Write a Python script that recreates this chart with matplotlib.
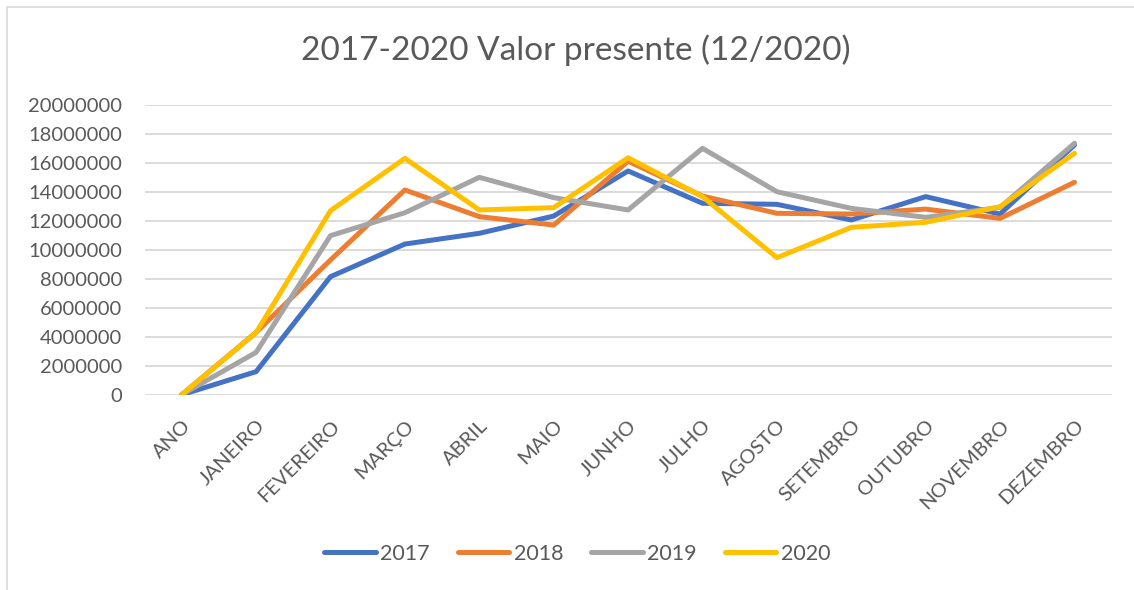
import matplotlib.pyplot as plt
from matplotlib.patches import Rectangle

# dados
meses = ["ANO", "JANEIRO", "FEVEREIRO", "MARÇO", "ABRIL", "MAIO", "JUNHO",
         "JULHO", "AGOSTO", "SETEMBRO", "OUTUBRO", "NOVEMBRO", "DEZEMBRO"]
v2017 = [0, 1590000, 8140000, 10390000, 11130000, 12320000, 15430000,
         13200000, 13130000, 12050000, 13660000, 12460000, 17220000]
v2018 = [0, 4300000, 9290000, 14120000, 12280000, 11700000, 16100000,
         13700000, 12510000, 12460000, 12800000, 12160000, 14650000]
v2019 = [0, 2920000, 10970000, 12550000, 14990000, 13590000, 12740000,
         16990000, 14000000, 12850000, 12230000, 12920000, 17340000]
v2020 = [0, 4280000, 12690000, 16300000, 12740000, 12900000, 16340000,
         13660000, 9450000, 11540000, 11890000, 12970000, 16650000]
anos = ["2017", "2018", "2019", "2020"]
cores = ["#4472C4", "#ED7D31", "#A5A5A5", "#FFC000"]

plt.rcParams['font.family'] = ['Lato', 'DejaVu Sans']
cinza = "#595959"

fig = plt.figure(figsize=(11.34, 5.9), dpi=100)
ax = fig.add_axes([144.5 / 1134, 1 - 394.7 / 590, 967.2 / 1134, 290 / 590])

# borda do gráfico
fig.patches.append(Rectangle((7 / 1134, -0.05), 1.2, 1 - 7 / 590 + 0.05,
                             transform=fig.transFigure, fill=False,
                             edgecolor="#d9d9d9", linewidth=1.2))

x = list(range(len(meses)))
for serie, ano, cor in zip([v2017, v2018, v2019, v2020], anos, cores):
    ax.plot(x, serie, color=cor, linewidth=3.6, label=ano,
            solid_capstyle='round', solid_joinstyle='round')

ax.set_xlim(-0.5, len(meses) - 0.5)
ax.set_ylim(0, 20000000)
ax.set_yticks(range(0, 20000001, 2000000))
ax.set_yticklabels([str(v) for v in range(0, 20000001, 2000000)])
ax.set_xticks(x)
ax.set_xticklabels(meses, rotation=45, ha='right', rotation_mode='anchor')
ax.tick_params(axis='both', length=0, labelsize=14.5, colors=cinza)
ax.tick_params(axis='y', pad=16)
ax.tick_params(axis='x', pad=16)
ax.grid(axis='y', color="#d9d9d9", linewidth=1.3)
ax.set_axisbelow(True)
for s in ax.spines.values():
    s.set_visible(False)

fig.text(576 / 1134, 1 - 50 / 590, "2017-2020 Valor presente (12/2020)",
         ha='center', va='center', fontsize=24, color=cinza)

fig.legend(loc='center', bbox_to_anchor=(577 / 1134, 1 - 554 / 590), ncol=4,
           frameon=False, fontsize=15.5, labelcolor=cinza, handlelength=2.4,
           handletextpad=0.2, columnspacing=1.3)

fig.savefig("out.png", dpi=100)
